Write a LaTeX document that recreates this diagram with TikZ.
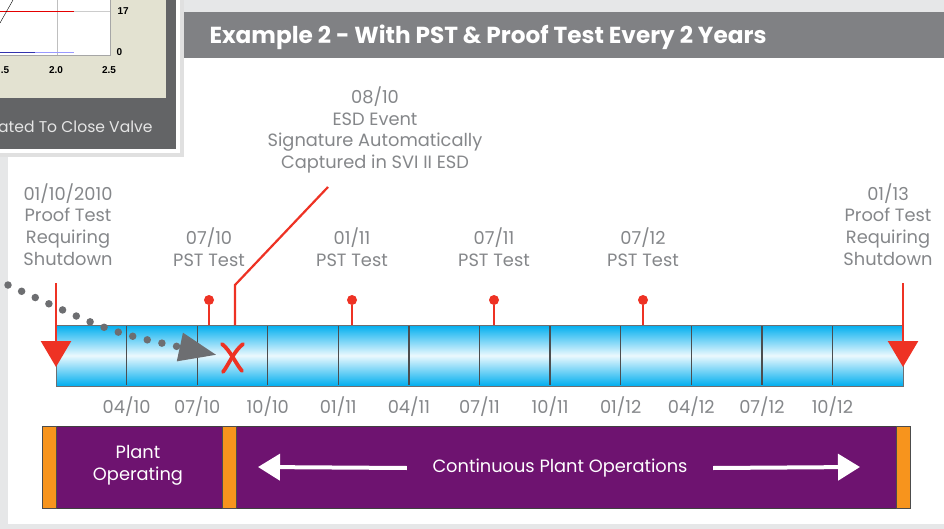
\documentclass[tikz,border=0pt]{standalone}
\usepackage{fontspec}
\setmainfont{Poppins}
\newfontfamily\chartfont{Liberation Sans}
\usetikzlibrary{arrows.meta,shapes,positioning}
\definecolor{bgray}{HTML}{E6E7E8}
\definecolor{hgray}{HTML}{808184}
\definecolor{tgray}{HTML}{85878A}
\definecolor{esdred}{HTML}{EE3224}
\definecolor{barblue}{HTML}{00AEEF}
\definecolor{plum}{HTML}{6E1370}
\definecolor{tangerine}{HTML}{F7941D}
\definecolor{dotgray}{HTML}{6D6E71}
\definecolor{insetgray}{HTML}{636466}
\definecolor{beige}{HTML}{E3E2D1}
\tikzstyle{evtext}=[text=tgray, align=center, font=\fontsize{17.8}{21.7}\selectfont]
\tikzstyle{datetext}=[text=tgray, font=\fontsize{17.8}{20}\selectfont]
\tikzstyle{pinhead}=[circle,fill=esdred,minimum size=10pt,inner sep=0pt]
\tikzstyle{pinstem}=[draw=esdred,line width=2.2pt]
\tikzstyle{shutarrow}=[draw=esdred,line width=2.6pt,-{Triangle[width=30pt,length=26pt]}]
\tikzstyle{divider}=[draw=dotgray!70!black,line width=1.3pt]
\tikzstyle{strip}=[rectangle,fill=tangerine,draw=black!70,line width=0.8pt,minimum width=14pt,minimum height=82pt,inner sep=0pt]
\tikzstyle{opsarrow}=[draw=white,line width=4pt,-{Triangle[width=26pt,length=22pt]}]
\tikzstyle{whitetext}=[text=white, align=center, font=\fontsize{17.8}{22}\selectfont]

\begin{document}
\begin{tikzpicture}[x=1pt,y=-1pt]

    \useasboundingbox (0,0) rectangle (944,529);
    \fill[bgray] (0,0) rectangle (944,529);
    \fill[white] (8,58) rectangle (944,524);

    % header
    \fill[hgray] (176,12) rectangle (944,58);
    \node[text=white, font=\fontsize{23.2}{27}\selectfont\bfseries] (title) at (488,37)
        {Example 2 - With PST \& Proof Test Every 2 Years};

    % timeline bar
    \node[rectangle, minimum width=847pt, minimum height=61pt, inner sep=0pt,
          top color=barblue, bottom color=barblue, middle color=white!92!barblue,
          draw=dotgray, line width=1pt] (bar) at (479.5,355.5) {};

    \foreach \x/\d [count=\i] in {126.6/{04/10}, 197.2/{07/10}, 267.8/{10/10}, 338.3/{01/11},
                                 408.9/{04/11}, 479.5/{07/11}, 550.1/{10/11}, 620.7/{01/12},
                                 691.3/{04/12}, 761.9/{07/12}, 832.4/{10/12}}
    {
        \draw[divider] (\x,326) -- (\x,385);
        \node[datetext] (date\i) at (\x,407) {\d};
    }

    % PST tests
    \foreach \x/\d [count=\i] in {209/{07/10}, 352/{01/11}, 494/{07/11}, 643/{07/12}}
    {
        \node[pinhead] (pst\i) at (\x,300) {};
        \draw[pinstem] (pst\i) -- (pst\i |- bar.north);
        \node[evtext] (pstlabel\i) at (\x,247.5) {\d\\PST Test};
    }

    % proof tests
    \node[evtext] (ptleft) at (68,224.5) {01/10/2010\\Proof Test\\Requiring\\Shutdown};
    \node[evtext] (ptright) at (888,224.5) {01/13\\Proof Test\\Requiring\\Shutdown};
    \coordinate (ptlefttop) at (56,283);
    \coordinate (ptlefttip) at (56,367);
    \coordinate (ptrighttop) at (903,283);
    \coordinate (ptrighttip) at (903,367);
    \draw[shutarrow] (ptlefttop) -- (ptlefttip);
    \draw[shutarrow] (ptrighttop) -- (ptrighttip);

    % ESD event
    \node[evtext] (esd) at (375,130) {08/10\\ESD Event\\Signature Automatically\\Captured in SVI II ESD};
    \coordinate (esdfoot) at (235,325);
    \coordinate (esdknee) at (235,285);
    \coordinate (esdend) at (328,187);
    \draw[pinstem] (esdfoot) -- (esdknee) -- (esdend);

    % red x
    \draw[esdred, line width=3.8pt, line cap=round] (222,344) .. controls (230,350) and (236,364) .. (242,371);
    \draw[esdred, line width=3.8pt, line cap=round] (243,344) .. controls (234,351) and (229,364) .. (223,372);

    % dotted pointer
    \coordinate (dotstart) at (8,285);
    \coordinate (dotend) at (217,355);
    \draw[dotgray, line width=7.5pt, line cap=round, dash pattern=on 0pt off 15pt,
          -{Triangle[width=27pt,length=38pt]}] (dotstart) .. controls (110,332) .. (dotend);

    % operations bar
    \node[rectangle, fill=plum, draw=black!75, line width=1pt, minimum width=868pt,
          minimum height=82pt, inner sep=0pt] (ops) at (476,467) {};
    \node[strip] (strip1) at (49,467) {};
    \node[strip] (strip2) at (229,467) {};
    \node[strip] (strip3) at (903,467) {};
    \node[whitetext] (plant) at (138,465) {Plant\\Operating};
    \node[whitetext] (cpo) at (560,468) {Continuous Plant Operations};
    \coordinate (leftend) at (258,467);
    \coordinate (rightend) at (860,467);
    \draw[opsarrow] ([xshift=-22pt]cpo.west) -- (leftend);
    \draw[opsarrow] ([xshift=22pt]cpo.east) -- (rightend);

    % inset chart
    \fill[black!12] (0,0) rectangle (184,157);
    \fill[white] (0,0) rectangle (180,153);
    \fill[insetgray] (0,0) rectangle (176,149);
    \fill[beige] (0,0) rectangle (166,98);
    \draw[black!35, fill=white] (-1,-1) rectangle (110,55);
    \draw[black!25] (57,0) -- (57,55);
    \draw[black!20, line width=1pt] (0,12) -- (110,12);
    \draw[red!90!black, line width=1pt] (0,12) -- (74,12);
    \draw[blue!60!black!80, line width=1pt] (0,53) -- (35,53);
    \draw[blue!40!white, line width=1pt] (35,53) -- (74,53);
    \draw[black] (0,23) -- (13,0);
    \node[font=\chartfont\fontsize{10}{12}\selectfont\bfseries, anchor=west] (ylab1) at (114,11) {17};
    \node[font=\chartfont\fontsize{10}{12}\selectfont\bfseries, anchor=west] (ylab2) at (113,52) {0};
    \node[font=\chartfont\fontsize{10}{12}\selectfont\bfseries] (xlab1) at (5,70) {.5};
    \node[font=\chartfont\fontsize{10}{12}\selectfont\bfseries] (xlab2) at (56,70) {2.0};
    \node[font=\chartfont\fontsize{10}{12}\selectfont\bfseries] (xlab3) at (109,70) {2.5};
    \node[text=black!10, font=\fontsize{15.6}{18}\selectfont, anchor=west, inner sep=0pt] (caption) at (-2,127) {ated To Close Valve};

\end{tikzpicture}
\end{document}
